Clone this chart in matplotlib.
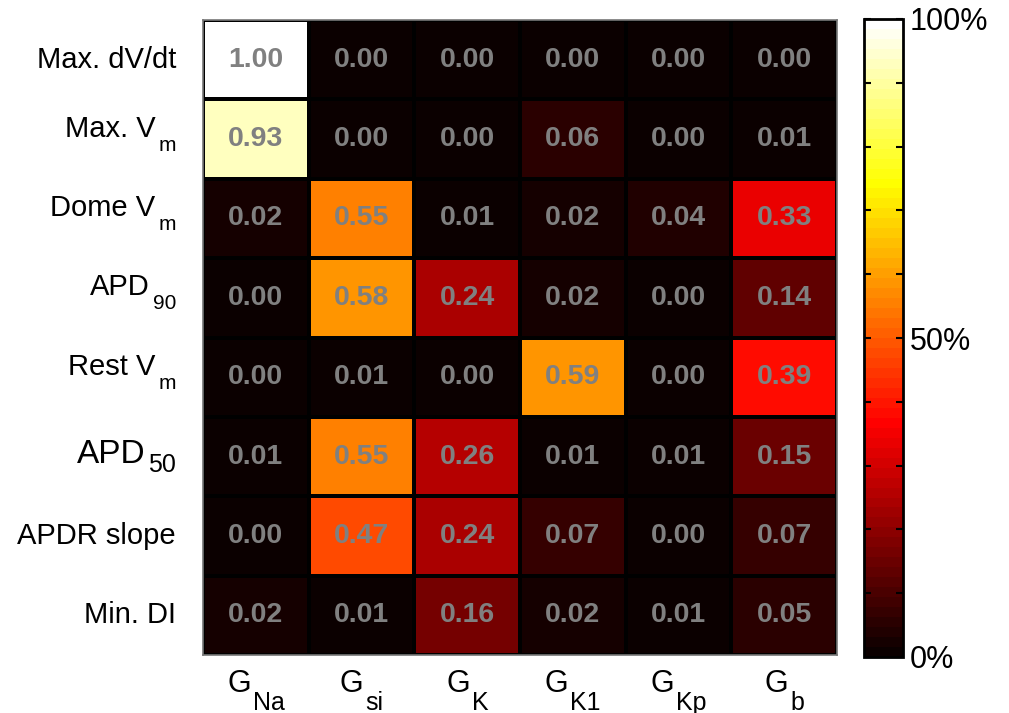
import matplotlib
matplotlib.use('Agg')
import matplotlib.pyplot as plt
from matplotlib.ticker import MultipleLocator
from matplotlib.transforms import IdentityTransform
import numpy as np

plt.rcParams['font.family'] = ['Liberation Sans', 'DejaVu Sans']

# ---- data ----
metric_main = ['Max. dV/dt', 'Max. V', 'Dome V', 'APD', 'Rest V', 'APD', 'APDR slope', 'Min. DI']
metric_sub = ['', 'm', 'm', '90', 'm', '50', '', '']
cond_main = ['G', 'G', 'G', 'G', 'G', 'G']
cond_sub = ['Na', 'si', 'K', 'K1', 'Kp', 'b']
row_max_dvdt = [1.00, 0.00, 0.00, 0.00, 0.00, 0.00]
row_max_vm   = [0.93, 0.00, 0.00, 0.06, 0.00, 0.01]
row_dome_vm  = [0.02, 0.55, 0.01, 0.02, 0.04, 0.33]
row_apd90    = [0.00, 0.58, 0.24, 0.02, 0.00, 0.14]
row_rest_vm  = [0.00, 0.01, 0.00, 0.59, 0.00, 0.39]
row_apd50    = [0.01, 0.55, 0.26, 0.01, 0.01, 0.15]
row_apdr     = [0.00, 0.47, 0.24, 0.07, 0.00, 0.07]
row_min_di   = [0.02, 0.01, 0.16, 0.02, 0.01, 0.05]
cbar_ticks = [0.0, 0.5, 1.0]
cbar_labels = ['0%', '50%', '100%']

data = np.array([row_max_dvdt, row_max_vm, row_dome_vm, row_apd90,
                 row_rest_vm, row_apd50, row_apdr, row_min_di])
nrows, ncols = data.shape

W, H = 1009, 713
fig = plt.figure(figsize=(W / 100, H / 100), dpi=100)
ax = fig.add_axes([203 / W, 1 - 655 / H, 634 / W, 635 / H])
cax = fig.add_axes([864 / W, 1 - 657 / H, 39 / W, 638 / H])

cmap = plt.get_cmap('hot', 64)
mesh = ax.pcolormesh(np.arange(ncols + 1), np.arange(nrows + 1), data,
                     cmap=cmap, vmin=0, vmax=1, edgecolors='black', linewidth=1.6)
ax.set_xlim(0, ncols)
ax.set_ylim(nrows, 0)

for i in range(nrows):
    for j in range(ncols):
        ax.text(j + 0.5, i + 0.5, f'{data[i, j]:.2f}', ha='center', va='center',
                color='#808080', fontsize=20.5, fontweight='bold')

ax.set_xticks([])
ax.set_yticks([])
for s in ax.spines.values():
    s.set_color('#777777')
    s.set_linewidth(1.2)

renderer = fig.canvas.get_renderer()
ident = IdentityTransform()

# y labels (main text + lowered subscript), right-aligned
x_right = 176
for i in range(nrows):
    yc = ax.transData.transform((0, i + 0.5))[1]
    main, sub = metric_main[i], metric_sub[i]
    if not sub:
        fig.text(x_right, yc, main, transform=ident, ha='right', va='center', fontsize=21)
        continue
    big = (sub == '50')
    msize = 24 if big else 21
    ssize = 18 if big else 15
    base = yc - 6 if big else yc + 2.5
    drop = 9 if big else 14
    st = fig.text(x_right, base - drop, sub, transform=ident, ha='right',
                  va='baseline', fontsize=ssize)
    ws = st.get_window_extent(renderer).width
    fig.text(x_right - ws - 3, base, main, transform=ident, ha='right',
             va='baseline', fontsize=msize)

# x labels (G + lowered subscript), centered on column
for j in range(ncols):
    xc = ax.transData.transform((j + 0.5, 0))[0]
    base = H - 692
    mt = fig.text(0, base, cond_main[j], transform=ident, ha='left', va='baseline', fontsize=22)
    st = fig.text(0, base - 18, cond_sub[j], transform=ident, ha='left', va='baseline', fontsize=18)
    wm = mt.get_window_extent(renderer).width
    ws = st.get_window_extent(renderer).width
    gap = 2
    left = xc - (wm + gap + ws) / 2
    mt.set_x(left)
    st.set_x(left + wm + gap)

cb = fig.colorbar(mesh, cax=cax)
cb.set_ticks(cbar_ticks)
cb.set_ticklabels(cbar_labels)
cb.outline.set_linewidth(2)
cax.yaxis.set_minor_locator(MultipleLocator(0.1))
cax.tick_params(which='both', direction='in', left=True, right=True,
                length=5, width=1.5, labelsize=22, pad=5)

fig.savefig('out.png', dpi=100)
